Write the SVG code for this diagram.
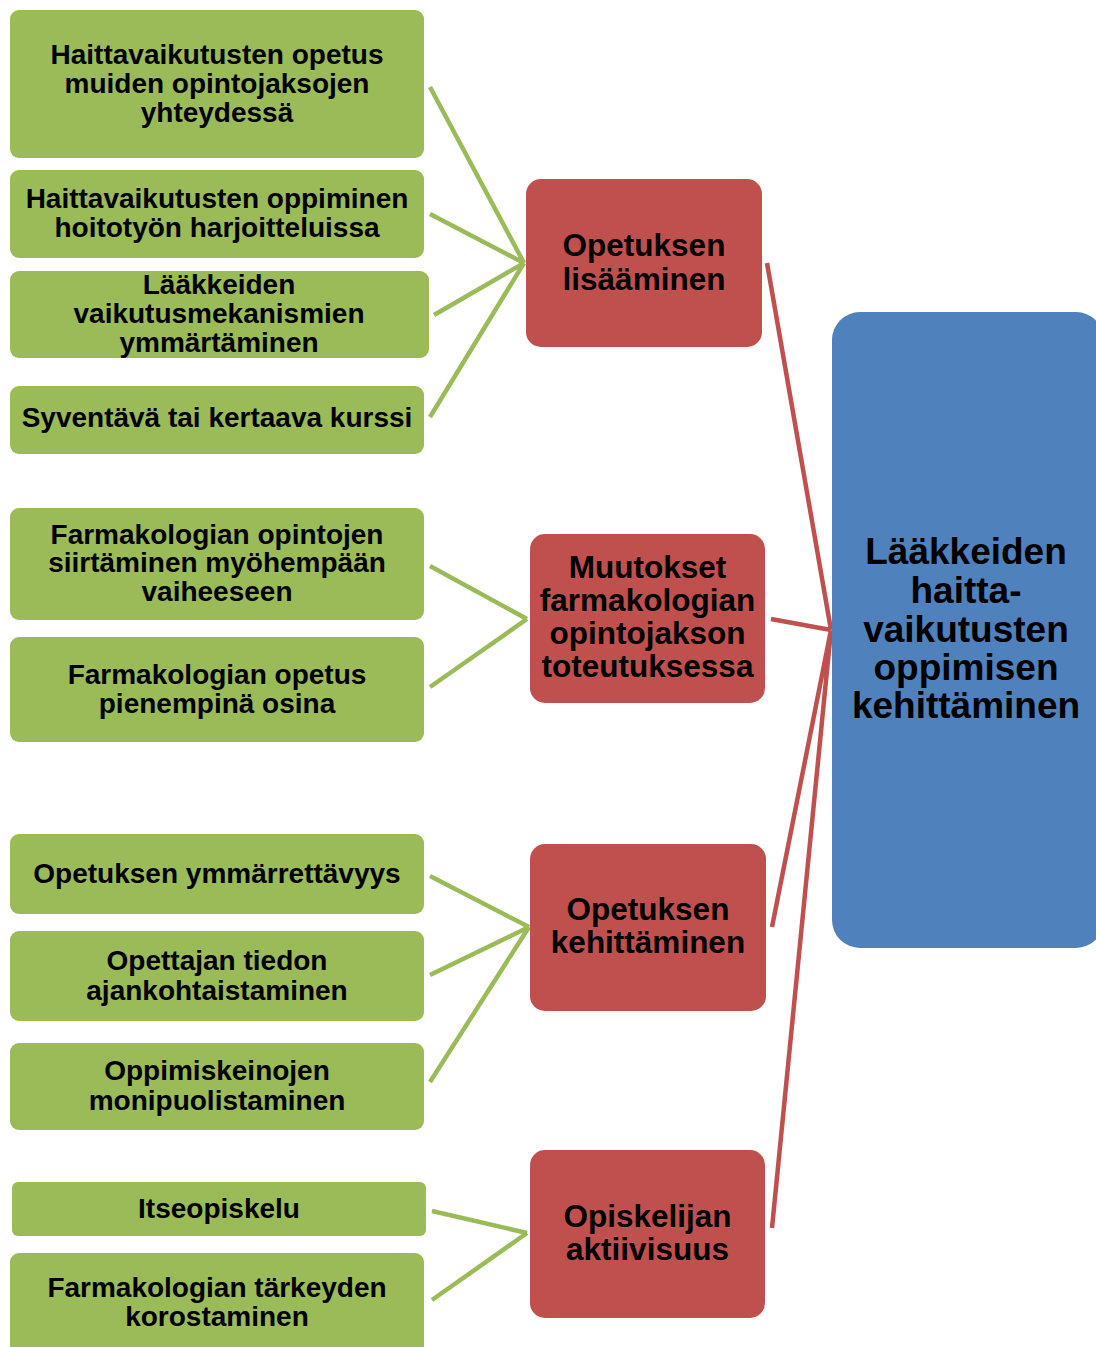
<svg xmlns="http://www.w3.org/2000/svg" width="1096" height="1347" viewBox="0 0 1096 1347">
<style>
.g{fill:#9bbb59}
.r{fill:#c0504d}
.b{fill:#4f81bd}
text{font-family:"Liberation Sans",Arial,sans-serif;font-weight:bold;fill:#000;text-anchor:middle}
.tg{font-size:28px}
.tr{font-size:31.5px}
.tb{font-size:37px}
.cg{stroke:#9bbb59;stroke-width:4.5;fill:none}
.cr{stroke:#c0504d;stroke-width:4.5;fill:none}
</style>
<rect width="1096" height="1347" fill="#fff"/>
<g id="connectors">
<path class="cg" d="M430,87 L524,263 M430,214 L524,263 M434,315 L524,263 M430,417 L524,263"/>
<path class="cg" d="M430,566 L527,619 M430,687 L527,619"/>
<path class="cg" d="M430,876 L529,927 M430,975 L529,927 M430,1082 L529,927"/>
<path class="cg" d="M432,1211 L527,1233 M432,1300 L527,1233"/>
<path class="cr" d="M767,263 L831,630 M771,619 L831,630 M772,927 L831,630 M772,1228 L831,630"/>
</g>
<g id="n1"><rect class="g" x="10" y="10" width="414" height="148" rx="9"/><text class="tg" x="217" y="64">Haittavaikutusten opetus</text><text class="tg" x="217" y="93">muiden opintojaksojen</text><text class="tg" x="217" y="122">yhteydessä</text></g>
<g id="n2"><rect class="g" x="10" y="170" width="414" height="88" rx="9"/><text class="tg" x="217" y="208">Haittavaikutusten oppiminen</text><text class="tg" x="217" y="237">hoitotyön harjoitteluissa</text></g>
<g id="n3"><rect class="g" x="10" y="271" width="419" height="87" rx="9"/><text class="tg" x="219" y="294">Lääkkeiden</text><text class="tg" x="219" y="323">vaikutusmekanismien</text><text class="tg" x="219" y="352">ymmärtäminen</text></g>
<g id="n4"><rect class="g" x="10" y="386" width="414" height="68" rx="9"/><text class="tg" x="217" y="427">Syventävä tai kertaava kurssi</text></g>
<g id="n5"><rect class="g" x="10" y="508" width="414" height="112" rx="9"/><text class="tg" x="217" y="544">Farmakologian opintojen</text><text class="tg" x="217" y="572">siirtäminen myöhempään</text><text class="tg" x="217" y="601">vaiheeseen</text></g>
<g id="n6"><rect class="g" x="10" y="637" width="414" height="105" rx="9"/><text class="tg" x="217" y="684">Farmakologian opetus</text><text class="tg" x="217" y="713">pienempinä osina</text></g>
<g id="n7"><rect class="g" x="10" y="834" width="414" height="80" rx="9"/><text class="tg" x="217" y="883">Opetuksen ymmärrettävyys</text></g>
<g id="n8"><rect class="g" x="10" y="931" width="414" height="90" rx="9"/><text class="tg" x="217" y="970">Opettajan tiedon</text><text class="tg" x="217" y="1000">ajankohtaistaminen</text></g>
<g id="n9"><rect class="g" x="10" y="1043" width="414" height="87" rx="9"/><text class="tg" x="217" y="1080">Oppimiskeinojen</text><text class="tg" x="217" y="1110">monipuolistaminen</text></g>
<g id="n10"><rect class="g" x="12" y="1182" width="414" height="54" rx="6"/><text class="tg" x="219" y="1218">Itseopiskelu</text></g>
<g id="n11"><rect class="g" x="10" y="1253" width="414" height="110" rx="9"/><text class="tg" x="217" y="1297">Farmakologian tärkeyden</text><text class="tg" x="217" y="1326">korostaminen</text></g>
<g id="rA"><rect class="r" x="526" y="179" width="236" height="168" rx="15"/><text class="tr" x="644" y="256">Opetuksen</text><text class="tr" x="644" y="290">lisääminen</text></g>
<g id="rB"><rect class="r" x="530" y="534" width="235" height="169" rx="15"/><text class="tr" x="647.5" y="578">Muutokset</text><text class="tr" x="647.5" y="611">farmakologian</text><text class="tr" x="647.5" y="644">opintojakson</text><text class="tr" x="647.5" y="677">toteutuksessa</text></g>
<g id="rC"><rect class="r" x="530" y="844" width="236" height="167" rx="15"/><text class="tr" x="648" y="920">Opetuksen</text><text class="tr" x="648" y="953">kehittäminen</text></g>
<g id="rD"><rect class="r" x="530" y="1150" width="235" height="168" rx="15"/><text class="tr" x="647.5" y="1227">Opiskelijan</text><text class="tr" x="647.5" y="1260">aktiivisuus</text></g>
<g id="main"><rect class="b" x="832" y="312" width="272" height="636" rx="28"/><text class="tb" x="966" y="564">Lääkkeiden</text><text class="tb" x="966" y="603">haitta-</text><text class="tb" x="966" y="642">vaikutusten</text><text class="tb" x="966" y="680">oppimisen</text><text class="tb" x="966" y="718">kehittäminen</text></g>
</svg>
